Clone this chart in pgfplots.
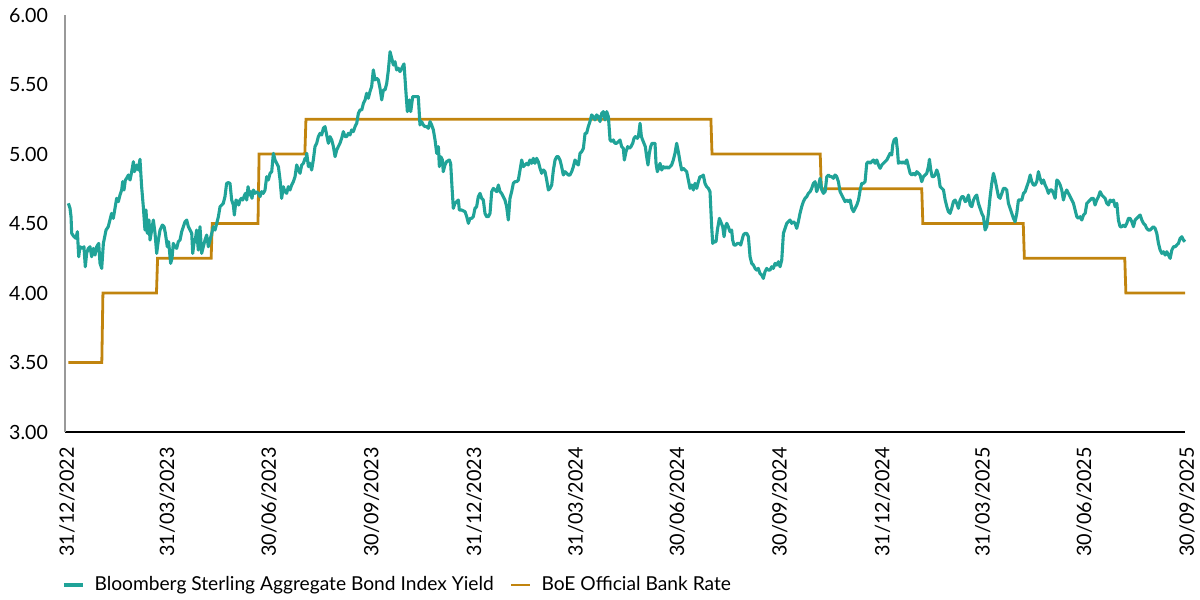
\documentclass[border=0pt]{standalone}
\usepackage{pgfplots}
\pgfplotsset{compat=1.18}
\usepackage{fontspec}
\setmainfont{Lato}
\definecolor{teal}{RGB}{32,163,152}
\definecolor{gold}{RGB}{193,132,14}
\begin{document}
\begin{tikzpicture}
\path[use as bounding box] (-32.5pt,-84pt) rectangle (567.5pt,216pt);
\begin{axis}[
  at={(0,0)}, anchor=south west,
  scale only axis, width=560pt, height=208.5pt,
  xmin=0, xmax=1004, ymin=3, ymax=6,
  axis x line*=bottom, axis y line*=left,
  x axis line style={black, line width=0.6pt, -},
  y axis line style={gray!80, line width=0.6pt, -},
  tick style={draw=none},
  ytick={3,3.5,4,4.5,5,5.5,6},
  /pgf/number format/fixed, /pgf/number format/fixed zerofill, /pgf/number format/precision=2, /pgf/number format/assume math mode=true,
  yticklabel style={font=\fontsize{9.8pt}{11pt}\selectfont, xshift=-5pt},
  xtick={0,90,181,273,365,456,547,639,731,821,912,1004},
  xticklabels={31/12/2022,31/03/2023,30/06/2023,30/09/2023,31/12/2023,31/03/2024,30/06/2024,30/09/2024,31/12/2024,31/03/2025,30/06/2025,30/09/2025},
  xticklabel style={rotate=90, anchor=east, font=\fontsize{9.9pt}{12pt}\selectfont, xshift=-4pt, yshift=-1pt},
  clip=false,
  legend columns=2,
  legend style={draw=none, fill=none, inner sep=0pt, at={(axis description cs:0,0)}, anchor=west, yshift=-76.5pt, xshift=-1.5pt,
    font=\fontsize{9.6pt}{11pt}\selectfont,
    nodes={inner xsep=5pt},
    /tikz/every even column/.append style={column sep=3pt}},
  legend cell align=left,
  legend image code/.code={\draw[#1] (0pt,0pt) -- (9.5pt,0pt);},
]
\addplot[gold, line width=1.4pt, forget plot] coordinates {
(3,3.5) (33,3.5) (34,4.0) (82,4.0) (83,4.25) (131,4.25) (132,4.5) (173,4.5) (174,5.0) (215,5.0) (216,5.25) (579,5.25) (580,5.0) (677,5.0) (678,4.75) (768,4.75) (769,4.5) (859,4.5) (860,4.25) (950,4.25) (951,4.0) (1004,4.0)
};
\addplot[teal, line width=1.55pt, line join=round] coordinates {
(3.0,4.645) (4.5,4.609) (5.4,4.549) (6.0,4.429) (8.1,4.405) (9.9,4.393) (11.1,4.441) (12.3,4.261) (13.4,4.333) (15.8,4.321) (17.0,4.333) (18.2,4.189) (19.4,4.285) (20.9,4.321) (22.4,4.333) (23.9,4.261) (25.4,4.321) (26.9,4.273) (28.4,4.333) (30.2,4.357) (31.4,4.213) (32.9,4.177) (34.4,4.357) (36.8,4.453) (38.8,4.477) (40.3,4.525) (41.8,4.573) (43.3,4.537) (44.8,4.609) (46.3,4.681) (47.8,4.657) (49.3,4.705) (50.8,4.741) (51.7,4.801) (52.9,4.741) (54.1,4.813) (55.3,4.825) (56.8,4.849) (58.3,4.813) (59.8,4.873) (61.3,4.945) (62.2,4.873) (63.4,4.897) (64.3,4.921) (65.8,4.885) (67.2,4.962) (68.7,4.765) (70.2,4.621) (71.7,4.453) (72.6,4.597) (73.8,4.429) (75.3,4.525) (76.2,4.381) (77.7,4.453) (79.2,4.525) (80.7,4.429) (82.2,4.285) (83.7,4.381) (85.2,4.453) (87.3,4.489) (88.8,4.477) (90.0,4.429) (91.7,4.333) (92.9,4.369) (94.7,4.213) (95.9,4.249) (97.1,4.357) (98.6,4.333) (100.1,4.321) (101.6,4.369) (103.1,4.381) (104.6,4.441) (106.1,4.477) (107.6,4.513) (109.1,4.525) (110.6,4.477) (112.1,4.453) (113.6,4.429) (114.5,4.285) (115.6,4.357) (116.8,4.381) (118.0,4.453) (119.5,4.309) (121.0,4.477) (122.5,4.285) (124.0,4.333) (125.5,4.381) (127.0,4.417) (128.5,4.333) (130.0,4.381) (131.5,4.429) (133.0,4.477) (134.5,4.453) (136.0,4.501) (137.5,4.549) (139.0,4.621) (140.5,4.633) (141.9,4.645) (143.4,4.693) (144.9,4.789) (146.4,4.794) (147.9,4.789) (149.4,4.669) (150.9,4.633) (151.8,4.561) (153.3,4.669) (154.5,4.657) (155.7,4.633) (156.9,4.669) (158.1,4.681) (159.3,4.669) (160.5,4.693) (161.7,4.717) (162.9,4.669) (164.1,4.765) (165.3,4.705) (166.4,4.729) (167.6,4.681) (168.8,4.741) (170.3,4.717) (171.8,4.729) (173.3,4.717) (174.8,4.693) (176.3,4.729) (177.8,4.717) (179.3,4.741) (180.8,4.837) (182.3,4.813) (183.8,4.861) (185.3,4.873) (186.8,5.005) (188.3,4.957) (189.8,4.933) (191.3,4.909) (192.8,4.813) (194.2,4.681) (195.7,4.765) (197.2,4.729) (198.7,4.717) (200.2,4.765) (201.7,4.741) (203.2,4.777) (204.7,4.801) (206.2,4.837) (207.7,4.921) (209.2,4.885) (210.7,4.861) (212.2,4.921) (213.7,4.933) (215.2,4.969) (216.1,4.957) (216.7,5.005) (218.2,4.909) (219.6,4.933) (221.1,4.885) (222.6,4.957) (224.1,5.053) (225.6,5.077) (227.1,5.125) (228.6,5.149) (230.1,5.137) (231.6,5.185) (233.1,5.197) (234.6,5.137) (236.1,5.077) (237.6,5.125) (239.1,5.101) (240.6,5.053) (242.1,4.981) (243.6,5.029) (245.0,5.053) (246.5,5.077) (248.0,5.113) (249.5,5.161) (251.0,5.125) (252.5,5.125) (254.0,5.149) (255.5,5.137) (257.0,5.173) (258.5,5.161) (260.0,5.197) (261.5,5.221) (263.0,5.293) (264.5,5.317) (266.0,5.317) (267.5,5.365) (269.0,5.389) (270.4,5.437) (271.9,5.401) (273.4,5.449) (274.9,5.485) (276.4,5.605) (277.9,5.533) (279.4,5.545) (280.9,5.533) (282.4,5.473) (283.9,5.389) (285.4,5.461) (286.9,5.461) (288.4,5.509) (289.9,5.605) (291.4,5.736) (292.9,5.688) (294.4,5.640) (295.8,5.664) (297.3,5.605) (298.8,5.617) (300.3,5.593)
(301.8,5.616) (303.9,5.648) (305.7,5.437) (306.9,5.305) (308.7,5.389) (309.9,5.305) (311.7,5.413) (313.8,5.413) (316.7,5.413) (318.2,5.209) (319.7,5.233) (321.2,5.209) (322.7,5.197) (324.2,5.197) (325.7,5.185) (327.2,5.233) (328.7,5.209) (330.2,5.173) (331.7,5.101) (333.2,5.005) (334.7,5.053) (335.6,4.909) (336.8,4.981) (338.3,4.957) (339.1,4.873) (340.6,4.921) (342.1,4.945) (344.5,4.957) (345.7,4.933) (346.9,4.765) (348.1,4.609) (349.6,4.645) (351.1,4.657) (352.6,4.669) (353.5,4.597) (355.6,4.597) (358.6,4.585) (360.1,4.549) (361.6,4.501) (363.1,4.537) (364.6,4.537) (366.0,4.549) (367.5,4.609) (369.0,4.621) (370.5,4.693) (372.0,4.717) (373.5,4.681) (375.0,4.669) (376.5,4.573) (378.0,4.549) (379.5,4.549) (381.0,4.573) (382.5,4.729) (384.0,4.753) (385.5,4.741) (387.0,4.729) (388.5,4.777) (390.0,4.729) (391.4,4.717) (392.9,4.693) (394.4,4.669) (395.9,4.621) (397.4,4.525) (398.9,4.681) (400.4,4.729) (401.9,4.789) (403.4,4.801) (404.9,4.801) (406.4,4.813) (407.9,4.885) (409.4,4.957) (410.9,4.909) (412.4,4.921) (413.9,4.933) (415.3,4.921) (416.8,4.957) (418.3,4.933) (419.8,4.969) (421.3,4.933) (422.8,4.969) (424.3,4.945) (425.8,4.897) (427.3,4.861) (428.8,4.885) (430.3,4.873) (431.8,4.813) (433.3,4.741) (434.8,4.753) (436.3,4.777) (437.8,4.885) (439.3,4.957) (440.8,4.981) (442.2,4.981) (443.7,4.957) (445.2,4.909) (446.7,4.849) (448.2,4.873) (449.7,4.861) (451.2,4.849) (452.7,4.849) (454.2,4.873) (455.7,4.909) (457.2,4.957) (458.7,4.933) (460.2,4.921) (461.7,5.005) (463.2,5.017) (464.7,5.041) (466.2,5.149) (467.6,5.149) (469.1,5.197) (470.6,5.233) (472.1,5.281) (473.6,5.269) (475.1,5.245) (476.6,5.281) (478.1,5.269) (479.6,5.233) (481.1,5.293) (482.6,5.305) (484.1,5.245) (485.6,5.305) (487.1,5.269) (488.6,5.101) (490.1,5.089) (491.6,5.101) (493.0,5.077) (494.5,5.077) (496.0,5.089) (497.5,5.101) (499.0,5.053) (500.5,5.041) (501.4,4.957) (502.9,5.017) (504.4,5.053) (505.9,5.041) (507.4,5.053) (508.9,5.077) (510.1,5.113) (511.3,5.125) (513.1,5.113) (514.0,5.125) (515.5,5.221) (516.7,5.125) (517.8,5.101) (519.0,5.077) (520.2,5.053) (521.4,4.981) (522.6,4.921) (523.8,5.005) (525.0,5.053) (526.2,5.077) (527.4,5.077) (528.9,5.077) (529.8,4.933) (531.0,4.873) (532.2,4.897) (533.4,4.933) (534.9,4.885) (536.4,4.909) (537.9,4.897) (539.4,4.909) (540.9,4.897) (542.4,4.909) (543.8,4.921) (545.3,4.957) (546.8,5.005) (548.3,5.077) (549.8,5.017) (551.3,4.945) (552.8,4.885) (554.3,4.897) (555.8,4.885) (557.3,4.873) (558.8,4.813) (560.3,4.753) (561.8,4.777) (563.3,4.741) (564.8,4.789) (566.3,4.753) (567.8,4.801) (569.2,4.837) (570.7,4.837) (572.2,4.849) (573.7,4.789) (575.2,4.765) (576.7,4.753) (578.2,4.729) (579.7,4.477) (580.6,4.357) (581.8,4.369) (583.6,4.369) (584.8,4.453) (586.6,4.537) (587.8,4.513) (589.6,4.477) (590.8,4.405) (592.0,4.477) (593.2,4.501) (594.6,4.477) (596.1,4.441) (597.6,4.453) (598.5,4.381) (599.7,4.345) (601.2,4.345) (602.7,4.357) (604.5,4.357) (605.7,4.345) (606.9,4.381) (608.1,4.417) (609.6,4.429) (611.1,4.429) (612.6,4.405) (614.1,4.261) (615.6,4.213) (617.1,4.201) (618.6,4.177) (620.1,4.165) (621.5,4.177) (623.0,4.141) (624.5,4.129) (626.0,4.105) (627.5,4.153) (629.0,4.177) (630.5,4.165) (632.0,4.165) (633.5,4.189) (635.0,4.177) (636.5,4.213) (638.0,4.201) (639.5,4.225) (641.0,4.189) (642.5,4.237) (644.0,4.429) (645.5,4.465) (647.0,4.501) (648.4,4.513) (649.9,4.525) (651.4,4.501) (652.9,4.513) (654.4,4.501) (655.9,4.465) (657.4,4.513) (658.9,4.573) (660.4,4.621) (661.9,4.657) (663.4,4.681) (664.9,4.693) (666.4,4.717) (667.9,4.729) (669.4,4.753) (670.9,4.789) (672.4,4.801) (673.8,4.729) (675.3,4.765)
(676.9,4.825) (678.4,4.741) (679.9,4.717) (681.4,4.729) (682.9,4.837) (684.4,4.849) (685.9,4.837) (687.4,4.837) (688.8,4.825) (690.3,4.849) (691.8,4.837) (693.3,4.801) (694.8,4.729) (696.3,4.705) (697.8,4.681) (699.3,4.657) (700.8,4.669) (702.3,4.657) (703.8,4.669) (705.3,4.609) (706.8,4.585) (708.3,4.609) (709.8,4.633) (711.3,4.669) (712.8,4.741) (714.2,4.789) (715.7,4.789) (717.2,4.801) (718.7,4.933) (720.2,4.945) (721.7,4.933) (723.2,4.945) (724.7,4.957) (726.2,4.933) (727.7,4.957) (729.2,4.921) (730.7,4.897) (732.2,4.921) (733.7,4.933) (735.2,4.945) (736.7,4.957) (738.2,4.981) (739.6,5.005) (741.1,4.993) (742.0,5.065) (743.2,5.101) (745.0,5.113) (746.2,5.029) (747.1,4.933) (748.6,4.945) (750.1,4.933) (751.6,4.945) (753.1,4.933) (754.6,4.957) (756.1,4.909) (757.6,4.861) (759.1,4.849) (760.6,4.861) (762.1,4.849) (763.6,4.873) (765.0,4.861) (766.5,4.849) (768.0,4.801) (769.5,4.837) (771.0,4.849) (772.5,4.861) (774.0,4.909) (774.9,4.962) (776.1,4.885) (777.3,4.837) (778.5,4.837) (780.0,4.849) (781.5,4.885) (783.0,4.849) (784.5,4.765) (786.0,4.753) (787.5,4.741) (789.0,4.669) (790.5,4.621) (791.9,4.585) (793.4,4.573) (794.9,4.609) (796.4,4.657) (797.9,4.669) (799.4,4.645) (800.9,4.609) (802.4,4.669) (803.9,4.693) (805.4,4.693) (806.9,4.657) (808.4,4.669) (809.9,4.705) (811.4,4.633) (812.9,4.621) (814.4,4.669) (815.9,4.693) (817.3,4.705) (818.8,4.645) (820.3,4.609) (821.8,4.573) (823.3,4.549) (824.8,4.453) (826.3,4.477) (827.8,4.573) (829.3,4.693) (830.8,4.789) (832.3,4.861) (833.8,4.813) (835.3,4.753) (836.8,4.693) (838.3,4.681) (839.8,4.717) (841.3,4.753) (842.7,4.753) (844.2,4.741) (845.7,4.645) (847.2,4.609) (848.7,4.573) (850.2,4.537) (851.7,4.513) (853.2,4.573) (854.7,4.669) (856.2,4.669) (857.7,4.669) (859.2,4.717) (860.7,4.729) (862.2,4.765) (863.7,4.801) (865.2,4.849) (866.6,4.801) (868.1,4.777) (869.6,4.777) (871.1,4.801) (872.6,4.873) (874.1,4.825) (875.6,4.789) (877.1,4.813) (878.6,4.777) (880.1,4.753) (881.6,4.717) (883.1,4.741) (884.6,4.741) (886.1,4.717) (887.6,4.681) (889.1,4.813) (890.6,4.801) (892.1,4.777) (893.5,4.741) (895.0,4.669) (896.5,4.717) (898.0,4.741) (899.5,4.717) (901.0,4.693) (902.5,4.669) (904.0,4.645) (905.5,4.597) (907.0,4.549) (908.5,4.537) (910.0,4.549) (911.5,4.525) (913.0,4.561) (914.5,4.573) (916.0,4.645) (917.5,4.657) (918.9,4.669) (920.4,4.681) (921.9,4.681) (923.4,4.633) (924.9,4.669) (926.4,4.693) (927.9,4.729) (929.4,4.705) (930.9,4.693) (932.4,4.681) (933.9,4.645) (935.4,4.633) (936.9,4.669) (938.4,4.657) (939.9,4.669) (941.4,4.621) (942.9,4.645) (944.3,4.525) (945.8,4.477) (947.3,4.477) (948.8,4.489) (950.3,4.477) (951.8,4.501) (953.3,4.537) (954.8,4.537) (956.3,4.513) (957.8,4.477) (959.3,4.525) (960.8,4.537) (962.3,4.549) (963.8,4.561) (965.3,4.525) (966.8,4.501) (968.3,4.489) (969.7,4.465) (971.2,4.453) (972.7,4.453) (974.2,4.465) (975.7,4.477) (977.2,4.465) (978.7,4.429) (980.2,4.357) (981.7,4.309) (983.2,4.285) (984.7,4.297) (986.2,4.273) (987.7,4.297) (989.2,4.273) (990.7,4.249) (992.2,4.309) (993.7,4.333) (995.2,4.333) (996.6,4.345) (998.1,4.357) (999.6,4.393) (1001.1,4.405) (1002.6,4.381) (1004.0,4.369)
};
\addlegendentry{Bloomberg Sterling Aggregate Bond Index Yield}
\addlegendimage{gold, line width=1.4pt}
\addlegendentry{BoE Official Bank Rate}
\end{axis}
\end{tikzpicture}
\end{document}
